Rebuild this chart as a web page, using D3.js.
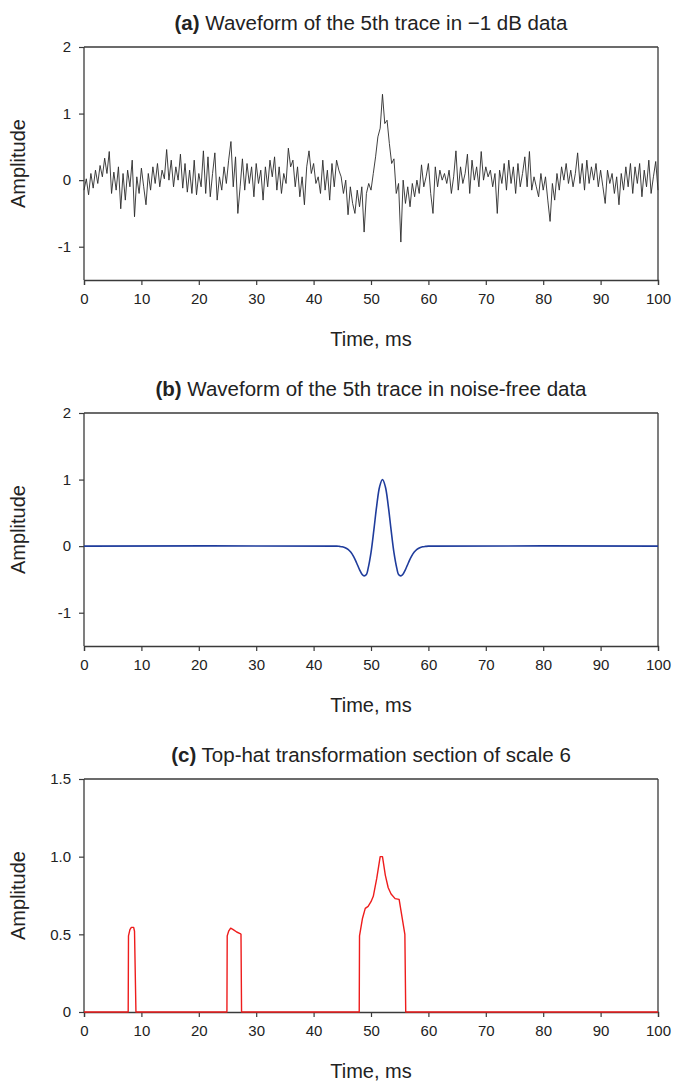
<!DOCTYPE html>
<html>
<head>
<meta charset="utf-8">
<script src="https://cdn.jsdelivr.net/npm/d3@7/dist/d3.min.js"></script>
<style>
  html, body { margin: 0; padding: 0; background: #fff; }
  svg text { font-family: "Liberation Sans", Arial, sans-serif; fill: #222; }
</style>
</head>
<body>
<svg id="chart" width="673" height="1083"></svg>
<script>
// ---------- DATA ----------
const panelTitlesBold = ["(a)", "(b)", "(c)"];
const panelTitlesText = [
  " Waveform of the 5th trace in \u22121 dB data",
  " Waveform of the 5th trace in noise-free data",
  " Top-hat transformation section of scale 6"
];
const xTickValues = [0, 10, 20, 30, 40, 50, 60, 70, 80, 90, 100];
const yTicksWave = [-1, 0, 1, 2];
const yTickLabelsWave = ["-1", "0", "1", "2"];
const yTicksTopHat = [0, 0.5, 1.0, 1.5];
const yTickLabelsTopHat = ["0", "0.5", "1.0", "1.5"];
const xLabel = "Time, ms";
const yLabel = "Amplitude";

// (a) noisy trace, sampled every 0.4 ms from 0 to 100 ms
const noisyStep = 0.4;
const noisyValues = [
  -0.15, 0.02, -0.22, 0.10, -0.12, 0.15, -0.05, 0.22, 0.05, 0.33,
  0.10, 0.43, -0.20, 0.12, -0.15, 0.20, -0.43, 0.10, -0.30, 0.15,
  -0.10, 0.30, -0.55, 0.05, -0.20, 0.18, -0.10, -0.37, 0.10, -0.15,
  0.20, -0.05, 0.25, -0.10, 0.15, 0.02, 0.46, 0.00, 0.30, -0.10,
  0.20, 0.00, 0.39, -0.12, 0.25, -0.18, 0.15, -0.20, 0.30, -0.22,
  0.10, -0.10, 0.44, -0.20, 0.35, -0.25, 0.10, 0.41, -0.30, 0.05,
  -0.15, 0.20, -0.05, 0.30, 0.58, -0.10, 0.35, -0.50, -0.10, 0.32,
  -0.15, 0.25, -0.05, 0.20, -0.25, 0.25, -0.05, 0.15, -0.30, 0.20,
  -0.10, 0.30, 0.05, 0.35, -0.15, 0.20, -0.20, 0.10, -0.05, 0.48,
  0.20, 0.30, -0.10, 0.20, -0.25, 0.05, -0.37, 0.20, 0.44, 0.10,
  0.25, -0.05, 0.05, -0.20, 0.30, -0.15, 0.15, -0.30, 0.25, -0.10,
  0.30, 0.15, 0.05, -0.20, 0.00, -0.52, -0.10, -0.35, -0.50, -0.15,
  -0.40, -0.10, -0.78, -0.20, -0.05, -0.15, 0.10, 0.35, 0.65, 0.78,
  1.29, 0.85, 0.90, 0.55, 0.25, 0.32, -0.20, -0.05, -0.93, 0.00,
  -0.35, -0.10, -0.40, -0.05, -0.25, 0.00, -0.20, 0.23, -0.10, 0.05,
  0.25, -0.20, -0.50, 0.20, -0.10, 0.15, 0.00, 0.10, -0.05, 0.15,
  -0.20, 0.05, 0.44, -0.15, 0.20, -0.05, 0.10, 0.39, -0.20, 0.30,
  0.00, 0.20, -0.10, 0.43, 0.00, 0.20, 0.05, 0.15, -0.10, 0.10,
  -0.50, 0.15, -0.05, 0.25, -0.15, 0.30, -0.05, 0.20, -0.20, 0.25,
  -0.10, 0.10, 0.35, -0.10, 0.43, -0.15, 0.05, -0.10, -0.25, 0.10,
  -0.15, 0.05, -0.30, -0.62, -0.05, -0.30, 0.10, -0.15, 0.20, 0.00,
  0.25, -0.05, 0.15, -0.10, 0.10, 0.41, -0.05, 0.25, -0.15, 0.30,
  -0.05, 0.20, 0.00, 0.25, -0.10, 0.15, -0.10, -0.35, 0.15, -0.05,
  0.10, -0.20, 0.05, -0.37, 0.10, -0.15, 0.20, -0.10, 0.25, -0.20,
  0.20, -0.05, 0.25, -0.25, 0.15, -0.10, 0.30, -0.20, 0.05, 0.28,
  -0.15
];

// (b) noise-free wavelet
const cleanTimes = [0, 44, 44.5, 45, 45.5, 46, 46.5, 47, 47.5, 48, 48.5, 48.8, 49.2, 49.5, 50, 50.5, 51, 51.5, 52,
  52.5, 53, 53.5, 54, 54.5, 54.8, 55.2, 55.5, 56, 56.5, 57, 57.5, 58, 58.5, 59, 59.5, 60, 100];
const cleanValues = [0, 0, -0.004, -0.010, -0.023, -0.049, -0.093, -0.162, -0.253, -0.353, -0.430, -0.446, -0.425, -0.333, -0.097, 0.244, 0.610, 0.893, 1.0,
  0.893, 0.610, 0.244, -0.097, -0.333, -0.425, -0.446, -0.430, -0.353, -0.253, -0.162, -0.093, -0.049, -0.023, -0.010, -0.004, 0, 0];

// (c) top-hat transformation
const topHatTimes = [0, 7.7, 7.75, 8.0, 8.25, 8.65, 8.8, 9.05,
  24.9, 24.95, 25.2, 25.55, 26.0, 26.6, 27.2, 27.35, 27.45,
  47.95, 48.0, 48.5, 49.0, 49.5, 50.0, 50.4, 51.0, 51.6, 52.0, 52.5, 53.0, 53.5, 54.2, 54.9, 55.9, 56.05, 100];
const topHatValues = [0, 0, 0.49, 0.53, 0.545, 0.545, 0.52, 0,
  0, 0.49, 0.52, 0.54, 0.53, 0.515, 0.505, 0.50, 0,
  0, 0.49, 0.60, 0.667, 0.68, 0.71, 0.745, 0.86, 1.0, 1.0, 0.88, 0.80, 0.76, 0.73, 0.725, 0.50, 0, 0];

// ---------- LAYOUT ----------
const svg = d3.select("#chart");
const left = 84, right = 658, plotH = 233;
const panelTops = [47, 413, 779];
const frameColor = "#3a3a3a";
const fontFam = "'Liberation Sans', Arial, sans-serif";

const x = d3.scaleLinear().domain([0, 100]).range([left, right]);

const panels = [
  { domain: [-1.5, 2], ticks: yTicksWave, labels: yTickLabelsWave,
    data: noisyValues.map((v, i) => [i * noisyStep, v]), color: "#2a2a2a", width: 0.9, curve: d3.curveLinear },
  { domain: [-1.5, 2], ticks: yTicksWave, labels: yTickLabelsWave,
    data: cleanTimes.map((t, i) => [t, cleanValues[i]]), color: "#1f3c9c", width: 1.6, curve: d3.curveCatmullRom },
  { domain: [0, 1.5], ticks: yTicksTopHat, labels: yTickLabelsTopHat,
    data: topHatTimes.map((t, i) => [t, topHatValues[i]]), color: "#ee1c1c", width: 1.4, curve: d3.curveLinear }
];

panels.forEach((p, k) => {
  const top = panelTops[k], bottom = top + plotH;
  const y = d3.scaleLinear().domain(p.domain).range([bottom, top]);
  const g = svg.append("g");

  // title
  const title = g.append("text")
    .attr("x", (left + right) / 2)
    .attr("y", top - 17)
    .attr("text-anchor", "middle")
    .style("font-size", "20.5px");
  title.append("tspan").style("font-weight", "bold").text(panelTitlesBold[k]);
  title.append("tspan").text(panelTitlesText[k]);

  // frame: top and right lines
  g.append("line").attr("x1", left).attr("x2", right).attr("y1", top).attr("y2", top)
    .attr("stroke", frameColor).attr("stroke-width", 1.3);
  g.append("line").attr("x1", right).attr("x2", right).attr("y1", top).attr("y2", bottom)
    .attr("stroke", frameColor).attr("stroke-width", 1.3);

  // x axis
  const xAxis = g.append("g").attr("transform", `translate(0,${bottom})`)
    .call(d3.axisBottom(x).tickValues(xTickValues).tickSizeOuter(0).tickSize(5).tickPadding(8));
  // y axis
  const yAxis = g.append("g").attr("transform", `translate(${left},0)`)
    .call(d3.axisLeft(y).tickValues(p.ticks).tickFormat((d, i) => p.labels[i]).tickSizeOuter(0).tickSize(5).tickPadding(8));
  [xAxis, yAxis].forEach(a => {
    a.select(".domain").attr("stroke", frameColor).attr("stroke-width", 1.3);
    a.selectAll(".tick line").attr("stroke", frameColor).attr("stroke-width", 1.2);
    a.selectAll(".tick text").style("font-size", "15px").style("font-family", fontFam).attr("fill", "#222");
  });
  yAxis.select(".domain").attr("d", `M0,${bottom}V${top}`);

  // series line
  const line = d3.line().x(d => x(d[0])).y(d => y(d[1])).curve(p.curve);
  g.append("path").datum(p.data)
    .attr("d", line)
    .attr("fill", "none")
    .attr("stroke", p.color)
    .attr("stroke-width", p.width)
    .attr("stroke-linejoin", "round");

  // axis labels
  g.append("text")
    .attr("x", (left + right) / 2)
    .attr("y", bottom + 66)
    .attr("text-anchor", "middle")
    .style("font-size", "20px")
    .text(xLabel);
  g.append("text")
    .attr("transform", `translate(25,${(top + bottom) / 2}) rotate(-90)`)
    .attr("text-anchor", "middle")
    .style("font-size", "20px")
    .text(yLabel);
});
</script>
</body>
</html>
